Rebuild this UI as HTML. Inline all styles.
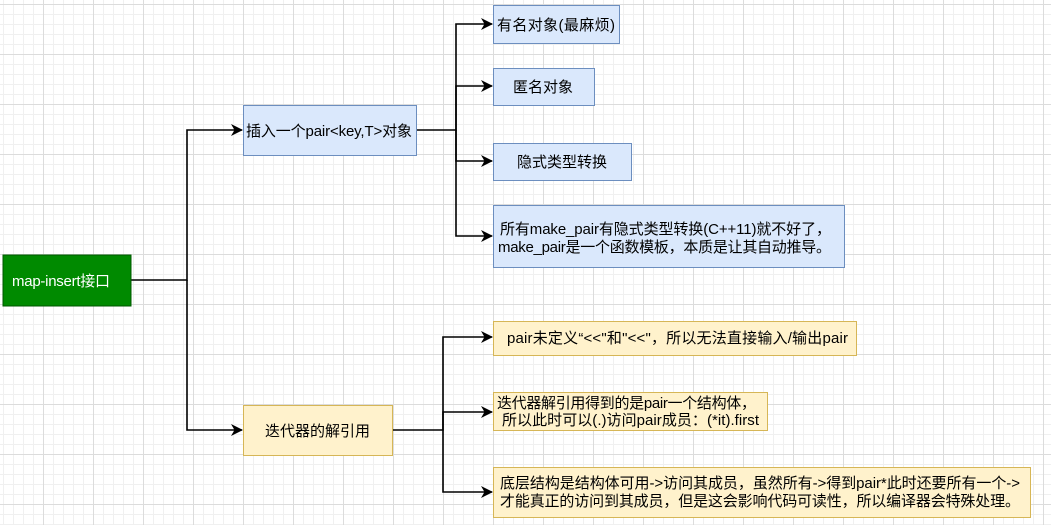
<!DOCTYPE html>
<html><head><meta charset="utf-8"><style>
html,body{margin:0;padding:0;}
body{width:1051px;height:525px;overflow:hidden;background-color:#fff;
background-image:linear-gradient(#dcdcdc 1px,transparent 1px),linear-gradient(90deg,#dcdcdc 1px,transparent 1px),linear-gradient(#f0f0f0 1px,transparent 1px),linear-gradient(90deg,#f0f0f0 1px,transparent 1px);
background-size:50px 50px,50px 50px,10px 10px,10px 10px;
background-position:0 4px,43px 0,0 4px,3px 0;}
svg{position:absolute;left:0;top:0}
text{font-family:"Liberation Sans","Noto Sans CJK SC",sans-serif;font-size:15px;fill:#000}
</style></head><body>
<svg width="1051" height="525" xmlns="http://www.w3.org/2000/svg">
<defs><marker id="a" markerWidth="12" markerHeight="12" refX="11" refY="6" orient="auto" markerUnits="userSpaceOnUse"><path d="M0,0 L12,6 L0,12 L3.5,6 z" fill="#000"/></marker></defs>
<g stroke="#000" stroke-width="1.6" fill="none">
<path d="M131,280 H187 V130 H242" marker-end="url(#a)"/>
<path d="M187,280 V430 H242" marker-end="url(#a)"/>
<path d="M416,130 H456 V24 H492" marker-end="url(#a)"/>
<path d="M456,130 V86 H492" marker-end="url(#a)"/>
<path d="M456,130 V161 H492" marker-end="url(#a)"/>
<path d="M456,130 V236 H492" marker-end="url(#a)"/>
<path d="M392,430 H443 V337 H492" marker-end="url(#a)"/>
<path d="M443,430 V412 H492" marker-end="url(#a)"/>
<path d="M443,430 V492 H492" marker-end="url(#a)"/>
</g>
<rect x="3" y="255" width="128" height="51" fill="#008a00" stroke="#005700"/>
<text x="12" y="286" style="fill:#fff" textLength="98">map-insert接口</text>
<g fill="#dae8fc" stroke="#6c8ebf">
<rect x="243.5" y="105.5" width="173" height="50"/>
<rect x="493.5" y="5.5" width="126" height="38"/>
<rect x="493.5" y="68.5" width="101" height="37"/>
<rect x="493.5" y="143.5" width="138" height="37"/>
<rect x="493.5" y="205.5" width="351" height="62"/>
</g>
<g fill="#fff2cc" stroke="#d6b656">
<rect x="243.5" y="405.5" width="149" height="50"/>
<rect x="493.5" y="321.5" width="363" height="34"/>
<rect x="493.5" y="392.5" width="274" height="38"/>
<rect x="493.5" y="467.5" width="537" height="50"/>
</g>
<text x="246" y="136" textLength="166">插入一个pair&lt;key,T&gt;对象</text>
<text x="497" y="30" textLength="118">有名对象(最麻烦)</text>
<text x="513" y="92">匿名对象</text>
<text x="517" y="167">隐式类型转换</text>
<text x="500" y="234" textLength="331">所有make_pair有隐式类型转换(C++11)就不好了，</text>
<text x="498" y="252" textLength="333">make_pair是一个函数模板，本质是让其自动推导。</text>
<text x="265" y="436">迭代器的解引用</text>
<text x="507" y="343" textLength="341">pair未定义“&lt;&lt;"和"&lt;&lt;"，所以无法直接输入/输出pair</text>
<text x="497" y="408" textLength="259">迭代器解引用得到的是pair一个结构体，</text>
<text x="502" y="425" textLength="257">所以此时可以(.)访问pair成员：(*it).first</text>
<text x="500" y="488" textLength="520">底层结构是结构体可用-&gt;访问其成员，虽然所有-&gt;得到pair*此时还要所有一个-&gt;</text>
<text x="500" y="506" textLength="520">才能真正的访问到其成员，但是这会影响代码可读性，所以编译器会特殊处理。</text>
</svg>
</body></html>
